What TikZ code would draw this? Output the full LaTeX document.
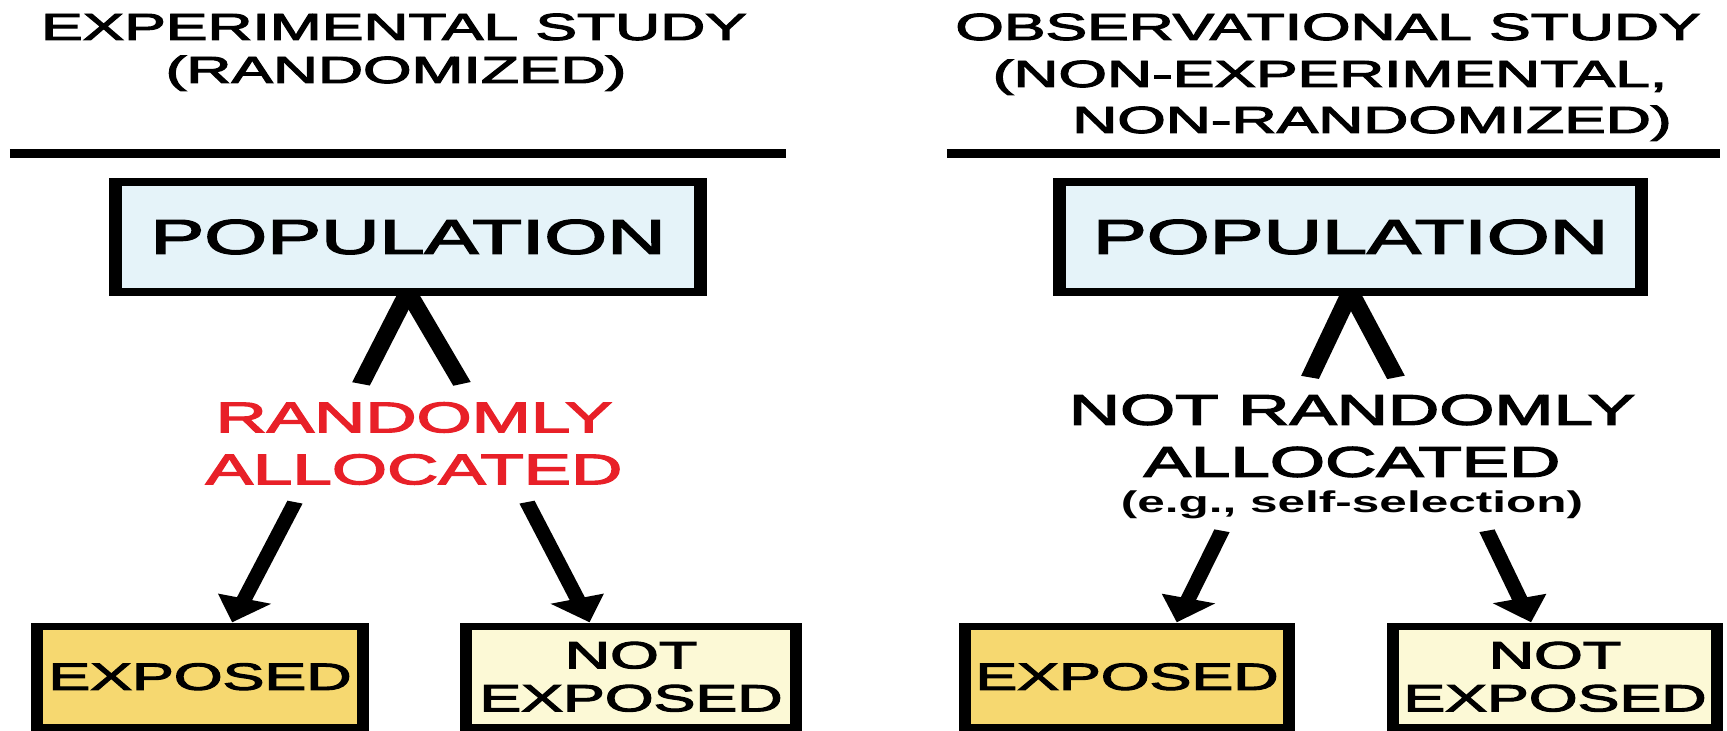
\documentclass[tikz,border=0pt]{standalone}
\usepackage{fontspec}
\setmainfont{Liberation Sans}
% slightly heavier strokes for the diagram lettering
\newfontfamily\heavysans{Liberation Sans}[FakeBold=2.5]
\usetikzlibrary{arrows.meta,calc}

\definecolor{popfill}{RGB}{229,243,249}
\definecolor{expfill}{RGB}{246,216,112}
\definecolor{nexpfill}{RGB}{252,249,214}
\definecolor{allocred}{RGB}{232,32,40}

\tikzset{
  heading/.style={anchor=base, inner sep=0pt, font=\heavysans\fontsize{18.9}{22}\selectfont},
  rule/.style={line width=4.5pt},
  popbox/.style={draw, line width=4pt, fill=popfill, inner sep=0pt,
    minimum height=55pt, font=\heavysans\fontsize{24.5}{28}\selectfont},
  groupbox/.style={draw, line width=3.5pt, inner sep=0pt, minimum height=50.75pt,
    align=center, font=\heavysans\fontsize{19}{21.5}\selectfont},
  alloc/.style={inner sep=0pt, align=center, font=\heavysans\fontsize{21.5}{26}\selectfont},
  note/.style={anchor=base, inner sep=0pt, font=\bfseries\fontsize{15}{18}\selectfont},
  leg/.style={line width=5.6pt},
  arr/.style={line width=4.8pt, -{Triangle[length=12.5pt,width=16pt]}},
}

\begin{document}
\begin{tikzpicture}[x=0.5pt,y=-0.5pt]
\useasboundingbox (0,0) rectangle (1727,731);
% everything is drawn in a horizontally widened canvas
\begin{scope}[transform canvas={xscale=1.65}, x=0.30303pt]

  % ---------------- experimental study ----------------
  \node[heading] (expt) at (394,40) {EXPERIMENTAL STUDY};
  \node[heading] (exps) at (396,83) {(RANDOMIZED)};
  \draw[rule] (10,154) -- (786,154);

  \node[popbox, minimum width=177.27pt] (pop1) at (408,237) {POPULATION};
  \node[alloc, text=allocred] (lab1) at (414,443.5) {RANDOMLY\\ALLOCATED};
  \draw[leg] ([yshift=2pt]pop1.south) -- ($(lab1.north)+(-53,-18)$);
  \draw[leg] ([yshift=2pt]pop1.south) -- ($(lab1.north)+(48,-18)$);

  \node[groupbox, fill=expfill, minimum width=98.79pt] (exp1) at (200,676.75) {EXPOSED};
  \node[groupbox, fill=nexpfill, minimum width=100pt] (nexp1) at (631,676.75) {NOT\\EXPOSED};
  \draw[arr] ($(lab1.south)+(-119,17)$) -- ($(exp1.north west)!0.595!(exp1.north east)$);
  \draw[arr] ($(lab1.south)+(113,17)$) -- ($(nexp1.north west)!0.379!(nexp1.north east)$);

  % ---------------- observational study ----------------
  \node[heading] (obst) at (1328,40) {OBSERVATIONAL STUDY};
  \node[heading] (obss) at (1330,87) {(NON-EXPERIMENTAL,};
  \node[heading] (obsr) at (1372,133) {NON-RANDOMIZED)};
  \draw[rule] (947,154) -- (1720,154);

  \node[popbox, minimum width=176.36pt] (pop2) at (1350.5,237) {POPULATION};
  \node[alloc] (lab2) at (1352,436) {NOT RANDOMLY\\ALLOCATED};
  \node[note] (eg2) at (1352,512) {(e.g., self-selection)};
  \draw[leg] ([yshift=2pt]pop2.south) -- ($(lab2.north)+(-42,-17)$);
  \draw[leg] ([yshift=2pt]pop2.south) -- ($(lab2.north)+(44,-17)$);

  \node[groupbox, fill=expfill, minimum width=98.18pt] (exp2) at (1127,676.75) {EXPOSED};
  \node[groupbox, fill=nexpfill, minimum width=98.18pt] (nexp2) at (1555,676.75) {NOT\\EXPOSED};
  \draw[arr] ($(eg2.south)+(-130,12)$) -- ($(exp2.north west)!0.648!(exp2.north east)$);
  \draw[arr] ($(eg2.south)+(135,12)$) -- ($(nexp2.north west)!0.429!(nexp2.north east)$);

\end{scope}
\end{tikzpicture}
\end{document}
